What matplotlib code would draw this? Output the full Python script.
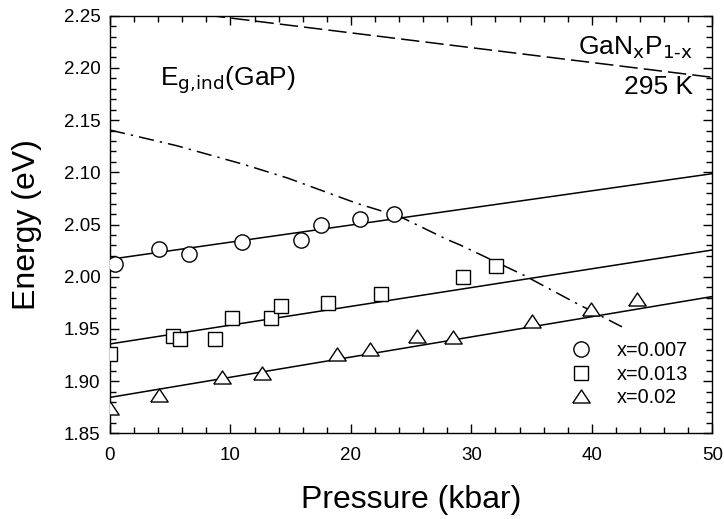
import matplotlib
matplotlib.use('Agg')
import matplotlib.pyplot as plt
from matplotlib.ticker import MultipleLocator

plt.rcParams['font.family'] = ['Liberation Sans', 'DejaVu Sans']

# measured points
p_007 = [0.42, 4.07, 6.56, 10.96, 15.86, 17.52, 20.76, 23.59]
e_007 = [2.012, 2.027, 2.022, 2.033, 2.035, 2.050, 2.055, 2.060]

p_013 = [0.0, 5.2, 5.81, 8.7, 10.1, 13.37, 14.18, 18.1, 22.5, 29.3, 32.03]
e_013 = [1.926, 1.9435, 1.940, 1.940, 1.960, 1.960, 1.972, 1.975, 1.983, 2.000, 2.010]

p_02 = [0.0, 4.07, 9.27, 12.6, 18.83, 21.6, 25.47, 28.5, 35.05, 39.95, 43.77]
e_02 = [1.874, 1.887, 1.904, 1.908, 1.926, 1.931, 1.943, 1.942, 1.958, 1.969, 1.979]

# linear fits (end points)
fit_p = [0, 50]
fit_007 = [2.0167, 2.0987]
fit_013 = [1.9356, 2.0256]
fit_02 = [1.8844, 1.981]

# upper dashed line
dash_p = [0, 50]
dash_e = [2.262, 2.191]

# E_g,ind(GaP) curve
gap_p = [0, 5.54, 11.07, 14.75, 20.49, 24.09, 27.96, 29.07, 34.33, 38.48, 42.5]
gap_e = [2.1405, 2.1255, 2.1077, 2.0945, 2.0703, 2.0575, 2.0358, 2.0304, 2.0016, 1.976, 1.952]

tri = [(-1, -0.75), (1, -0.75), (0, 0.75), (-1, -0.75)]

fig = plt.figure(figsize=(7.24, 5.19), dpi=100)
ax = fig.add_axes([0.1519, 0.1651, 0.8319, 0.8046])

ax.plot(fit_p, fit_007, color='black', lw=1.1)
ax.plot(fit_p, fit_013, color='black', lw=1.1)
ax.plot(fit_p, fit_02, color='black', lw=1.1)
ax.plot(dash_p, dash_e, color='black', lw=1.1, dashes=(12, 4))
ax.plot(gap_p, gap_e, color='black', lw=1.1, dashes=(10, 4, 1.5, 4))

ax.plot(p_007, e_007, 'o', ms=11, mfc='white', mec='black', mew=1.0, label='x=0.007', zorder=3)
ax.plot(p_013, e_013, 's', ms=9.5, mfc='white', mec='black', mew=1.0, label='x=0.013', zorder=3)
ax.plot(p_02, e_02, marker=tri, ls='none', ms=12.5, mfc='white', mec='black', mew=1.0, label='x=0.02', zorder=3)

ax.set_xlim(0, 50)
ax.set_ylim(1.85, 2.25)

ax.xaxis.set_major_locator(MultipleLocator(10))
ax.xaxis.set_minor_locator(MultipleLocator(2))
ax.yaxis.set_major_locator(MultipleLocator(0.05))
ax.yaxis.set_minor_locator(MultipleLocator(0.01))
ax.yaxis.set_major_formatter(matplotlib.ticker.FormatStrFormatter('%.2f'))

ax.tick_params(which='both', direction='in', top=True, right=True, labelsize=13.5, width=1)
ax.tick_params(which='major', length=6.5)
ax.tick_params(which='minor', length=4)
ax.tick_params(axis='x', which='major', pad=9.5)
ax.tick_params(axis='y', which='major', pad=7)
for s in ax.spines.values():
	s.set_linewidth(1)

ax.set_xlabel('Pressure (kbar)', fontsize=23)
ax.set_ylabel('Energy (eV)', fontsize=23)
ax.xaxis.set_label_coords(0.5, -0.124)
ax.yaxis.set_label_coords(-0.113, 0.5)

ax.text(4.15, 2.183, r'E$_{\text{g,ind}}$(GaP)', fontsize=19, va='baseline', ha='left')
ax.text(48.4, 2.2124, r'GaN$_{\text{x}}$P$_{\text{1-x}}$', fontsize=19, va='baseline', ha='right')
ax.text(48.4, 2.1747, '295 K', fontsize=19, va='baseline', ha='right')

ax.legend(loc='upper left', bbox_to_anchor=(0.745, 0.244), frameon=False, fontsize=14.3,
	handletextpad=1.2, labelspacing=0.22, handlelength=1.2, borderpad=0)

plt.savefig('out.png', dpi=100)
